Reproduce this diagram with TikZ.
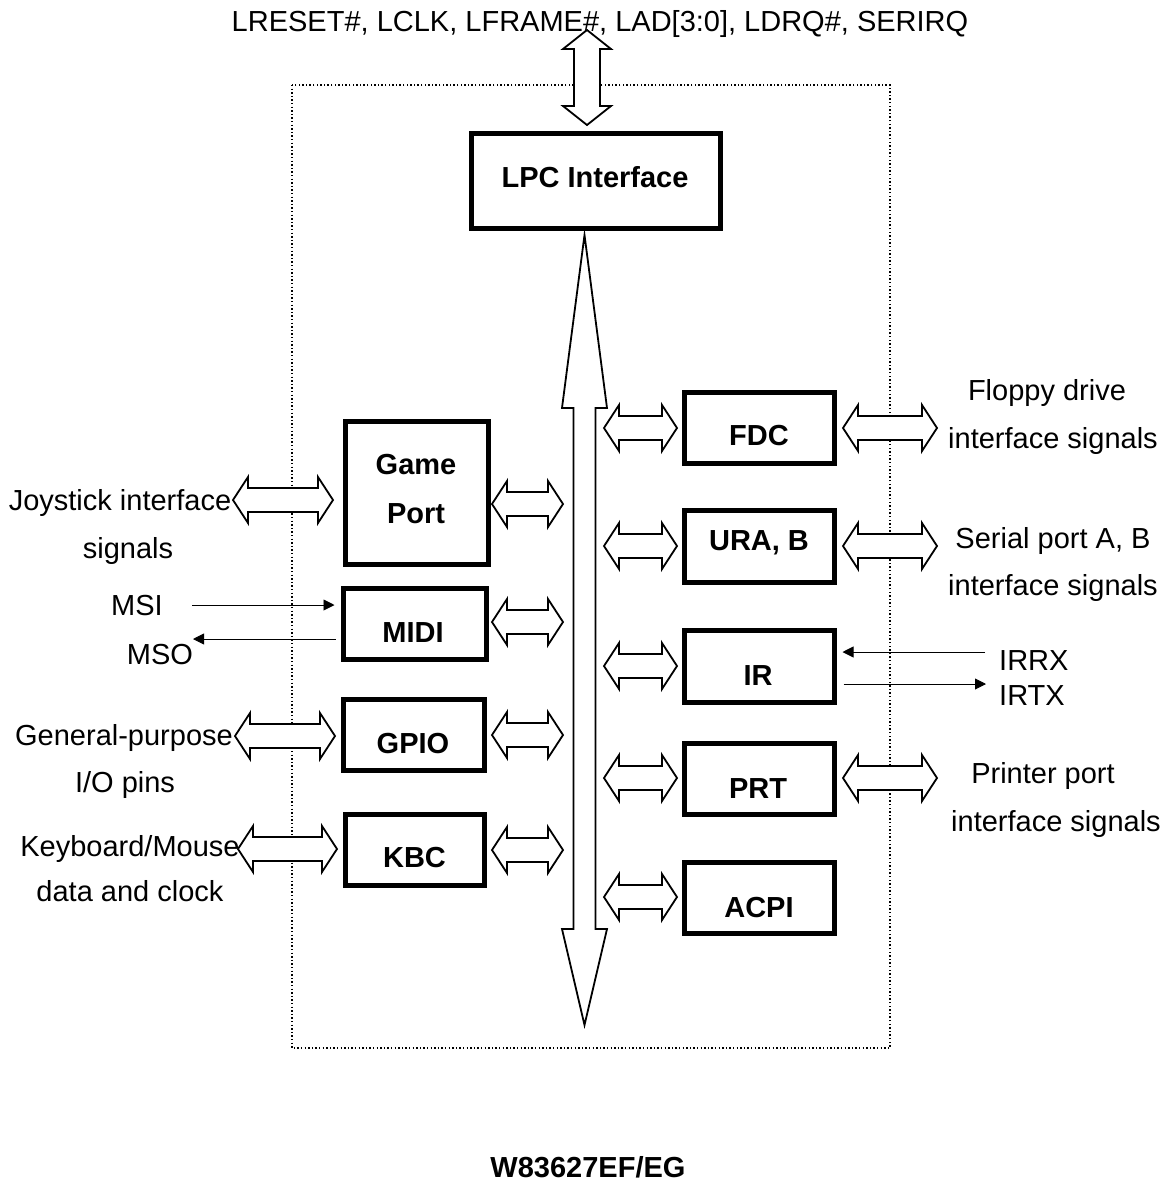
\documentclass[tikz,border=0pt]{standalone}
\usepackage{fontspec}
\setmainfont{Liberation Sans}
\usetikzlibrary{arrows.meta,calc}

% hollow horizontal double arrow: left x, right x, centre y
\newcommand\dblarrow[3]{%
  \draw[hollow] (#1,#3) -- ({#1+15},{#3-23}) -- ({#1+15},{#3-12}) -- ({#2-15},{#3-12})
    -- ({#2-15},{#3-23}) -- (#2,#3) -- ({#2-15},{#3+23}) -- ({#2-15},{#3+12})
    -- ({#1+15},{#3+12}) -- ({#1+15},{#3+23}) -- cycle;}

\begin{document}
\begin{tikzpicture}[x=1pt,y=-1pt,
  blk/.style={draw, line width=5pt, inner sep=0pt},
  btxt/.style={font=\bfseries\fontsize{29pt}{48pt}\selectfont, anchor=base, inner sep=0pt},
  txt/.style={font=\fontsize{29pt}{48pt}\selectfont, anchor=base, inner sep=0pt},
  hollow/.style={draw, line width=1.8pt, fill=white, line join=miter},
  thinarr/.style={line width=0.9pt, -{Triangle[length=11pt,width=11pt]}},
  chip/.style={line width=1.1pt, dash pattern=on 1.4pt off 2.2pt}
]
\useasboundingbox (0,0) rectangle (1172,1187);

% chip outline
\draw[chip] (292,85) rectangle (890,1048);

% LPC interface and external bus
\node[blk, minimum width=249pt, minimum height=95pt] (lpc) at (595.5,180.5) {};
\node[btxt] (lpct) at (595,187) {LPC Interface};
\node[txt] (lpcsig) at (600,31) {LRESET\#, LCLK, LFRAME\#, LAD[3:0], LDRQ\#, SERIRQ};
\draw[hollow] (587,30) -- (611,49) -- (600,49) -- (600,106) -- (611,106) -- (587,125)
  -- (563,106) -- (574,106) -- (574,49) -- (563,49) -- cycle;

% internal bus
\draw[hollow] (584.5,235) -- (607,408) -- (595.5,408) -- (595.5,929) -- (607,929) -- (584.5,1025)
  -- (562,929) -- (573.5,929) -- (573.5,408) -- (562,408) -- cycle;

% left-hand function blocks
\node[blk, minimum width=143pt, minimum height=143pt] (game) at (416.5,492.5) {};
\node[btxt] (gamet1) at (416,474) {Game};
\node[btxt] (gamet2) at (416,523) {Port};
\node[blk, minimum width=143pt, minimum height=71pt] (midi) at (414.5,623.5) {};
\node[btxt] (midit) at (413,642) {MIDI};
\node[blk, minimum width=141pt, minimum height=71pt] (gpio) at (413.5,734.5) {};
\node[btxt] (gpiot) at (413,753) {GPIO};
\node[blk, minimum width=139pt, minimum height=71pt] (kbc) at (414.5,849.5) {};
\node[btxt] (kbct) at (414.5,867) {KBC};

% right-hand function blocks
\node[blk, minimum width=150pt, minimum height=71pt] (fdc) at (759,427.5) {};
\node[btxt] (fdct) at (759,445) {FDC};
\node[blk, minimum width=150pt, minimum height=72pt] (ura) at (759,546) {};
\node[btxt] (urat) at (759,550) {URA, B};
\node[blk, minimum width=150pt, minimum height=72pt] (ir) at (759,666) {};
\node[btxt] (irt) at (758,685) {IR};
\node[blk, minimum width=150pt, minimum height=71pt] (prt) at (759,778.5) {};
\node[btxt] (prtt) at (758,798) {PRT};
\node[blk, minimum width=150pt, minimum height=71pt] (acpi) at (759,897.5) {};
\node[btxt] (acpit) at (759,917) {ACPI};

% block <-> bus
\dblarrow{492}{563}{504}
\dblarrow{492}{563}{622}
\dblarrow{492}{563}{735}
\dblarrow{492}{563}{850}
\dblarrow{604}{677}{428}
\dblarrow{604}{677}{546}
\dblarrow{604}{677}{666}
\dblarrow{604}{677}{778}
\dblarrow{604}{677}{897}

% external interfaces, left
\dblarrow{233}{333}{500}
\dblarrow{235}{335}{736}
\dblarrow{238}{337}{849}
\node[txt] (joy1) at (120,510) {Joystick interface};
\node[txt] (joy2) at (128,558) {signals};
\node[txt] (gp1) at (124,745) {General-purpose};
\node[txt] (gp2) at (125,792) {I/O pins};
\node[txt] (kb1) at (130,856) {Keyboard/Mouse};
\node[txt] (kb2) at (130,901) {data and clock};
\node[txt] (msi) at (137,615) {MSI};
\node[txt] (mso) at (160,664) {MSO};
\coordinate (msiend) at (192,605);
\coordinate (msoend) at (193,639);
\draw[thinarr] (msiend) -- ($(midi.west |- msiend)+(-6,0)$);
\draw[thinarr] ($(midi.west |- msoend)+(-5,0)$) -- (msoend);

% external interfaces, right
\dblarrow{843}{937}{428}
\dblarrow{843}{937}{546}
\dblarrow{843}{937}{778}
\node[txt] (fl1) at (1047,400) {Floppy drive};
\node[txt] (fl2) at (1053,448) {interface signals};
\node[txt] (sp1) at (1053,548) {Serial port A, B};
\node[txt] (sp2) at (1053,595) {interface signals};
\node[txt] (pp1) at (1043,783) {Printer port};
\node[txt] (pp2) at (1056,831) {interface signals};
\node[txt, anchor=base west] (irrx) at (999,670) {IRRX};
\node[txt, anchor=base west] (irtx) at (999,705) {IRTX};
\coordinate (irrxend) at (985,652);
\coordinate (irtxend) at (986,684);
\draw[thinarr] (irrxend) -- ($(ir.east |- irrxend)+(6,0)$);
\draw[thinarr] ($(ir.east |- irtxend)+(7,0)$) -- (irtxend);

% part number
\node[btxt] (part) at (588,1177) {W83627EF/EG};
\end{tikzpicture}
\end{document}
